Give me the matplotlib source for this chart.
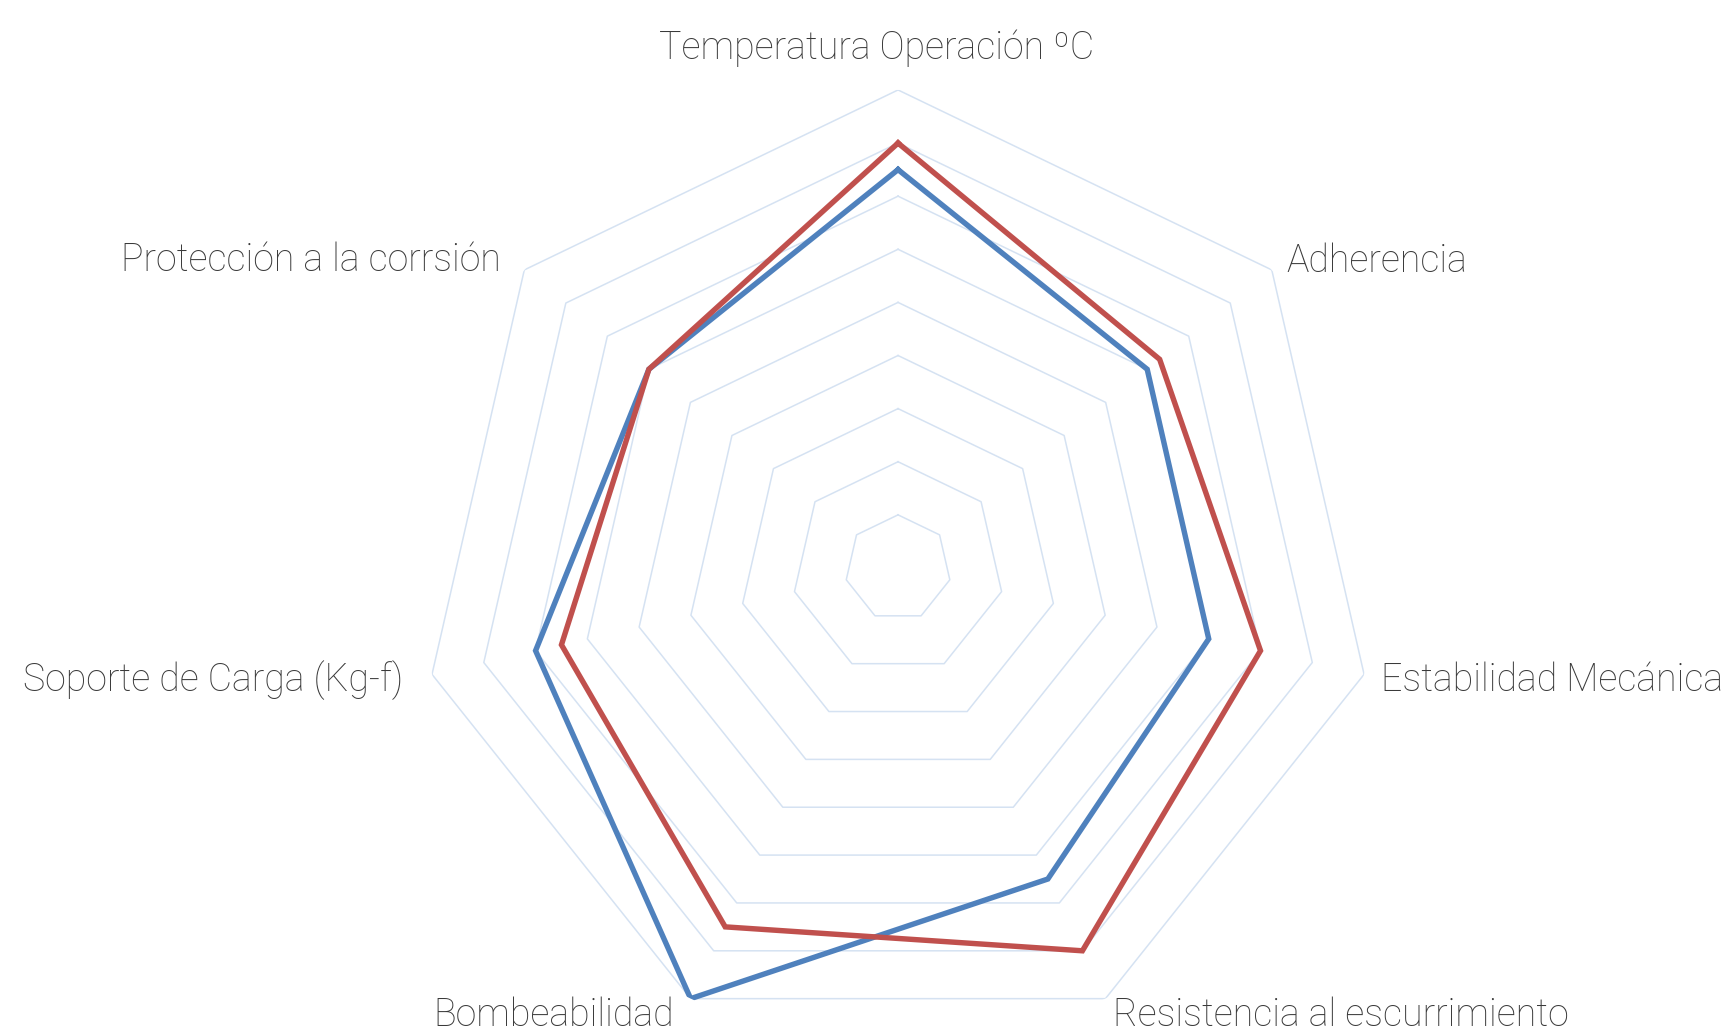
import numpy as np
import matplotlib
matplotlib.use("Agg")
import matplotlib.pyplot as plt

# categories and values
labels = ["Temperatura Operación ºC", "Adherencia", "Estabilidad Mecánica",
          "Resistencia al escurrimiento", "Bombeabilidad",
          "Soporte de Carga (Kg-f)", "Protección a la corrsión"]
serie_azul = [7.5, 6.0, 6.0, 6.5, 9.0, 7.0, 6.0]
serie_roja = [8.0, 6.3, 7.0, 8.0, 7.5, 6.5, 6.0]
rings = [1, 2, 3, 4, 5, 6, 7, 8, 9]

plt.rcParams['font.family'] = ['Roboto', 'DejaVu Sans']

n = len(labels)
angles = np.linspace(0, 2 * np.pi, n, endpoint=False)
ang_closed = np.append(angles, angles[0])

fig = plt.figure(figsize=(17.32, 10.28), dpi=100, facecolor='white')
ax = fig.add_axes([0.2425, -0.0175, 0.552, 0.930], projection='polar')
ax.set_theta_zero_location('N')
ax.set_theta_direction(-1)
ax.set_ylim(0, 9)
ax.grid(False)
ax.set_xticks([])
ax.set_yticks([])
ax.spines['polar'].set_visible(False)
ax.patch.set_alpha(0)

# heptagon gridlines
for k in rings:
    ax.plot(ang_closed, [k] * (n + 1), color='#D5E2F2', lw=1.1, zorder=1)

ax.plot(ang_closed, serie_azul + serie_azul[:1], color='#4F81BD', lw=3.9,
        solid_joinstyle='miter', zorder=3)
ax.plot(ang_closed, serie_roja + serie_roja[:1], color='#C0504D', lw=3.9,
        solid_joinstyle='miter', zorder=4)

# label offsets in pixels from the outer vertex
offsets = [(-21, 42, 'center'), (15, 9, 'left'), (17, -6, 'left'),
           (8, -17, 'left'), (-17, -17, 'right'), (-29, -6, 'right'),
           (-23, 10, 'right')]
for lab, a, (dx, dy, ha) in zip(labels, angles, offsets):
    ax.annotate(lab, xy=(a, rings[-1]), xytext=(dx * 0.72, dy * 0.72),
                textcoords='offset points', ha=ha, va='center',
                fontsize=27, fontweight='light', color='#3A3A3A',
                annotation_clip=False)

plt.savefig("out.png", dpi=100, facecolor='white')
